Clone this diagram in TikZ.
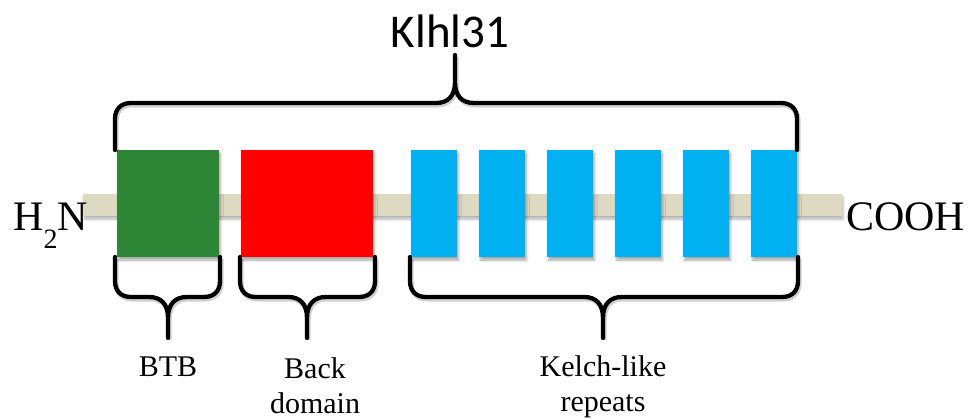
\documentclass[tikz,border=0pt]{standalone}
\usepackage{fontspec}
\setmainfont{Liberation Serif}
\newfontfamily\titlefont{Carlito}
\usetikzlibrary{shadows.blur}

\definecolor{btbgreen}{RGB}{44,134,54}
\definecolor{backred}{RGB}{255,0,0}
\definecolor{kelchblue}{RGB}{0,176,240}
\definecolor{chain}{RGB}{221,217,195}

\tikzset{
  domainbox/.style={draw=none, inner sep=0pt, minimum height=107pt,
    blur shadow={shadow xshift=1.5pt, shadow yshift=-3pt,
      shadow blur radius=2.5pt, shadow opacity=35}},
  bracestyle/.style={draw=black, line width=4.3pt, line join=round, line cap=round,
    preaction={draw=black, opacity=.18, line width=5pt,
      transform canvas={xshift=1.2pt, yshift=-2pt}}},
  label/.style={inner sep=0pt, font=\fontsize{30}{30}\selectfont},
  endlabel/.style={inner sep=0pt, font=\fontsize{42}{42}\selectfont, anchor=base west}
}

% curly brace: #1 left x, #2 right x, #3 arm end y, #4 bar y,
% #5 tip x, #6 tip y, #7 direction (1 = opens upward, -1 = opens downward)
\newcommand\curlybrace[7]{%
  \draw[bracestyle]
    (#1,#3) -- (#1,{#4-16*#7})
    .. controls (#1,{#4-6*#7}) and ({#1+6},#4) .. ({#1+16},#4)
    -- ({#5-19},#4)
    .. controls ({#5-7},#4) and (#5,{#4+7*#7}) .. (#5,{#4+21*#7})
    -- (#5,#6)
    -- (#5,{#4+21*#7})
    .. controls (#5,{#4+7*#7}) and ({#5+7},#4) .. ({#5+19},#4)
    -- ({#2-16},#4)
    .. controls ({#2-6},#4) and (#2,{#4-6*#7}) .. (#2,{#4-16*#7})
    -- (#2,#3);
}

\begin{document}
\begin{tikzpicture}[x=1pt, y=-1pt]
  \useasboundingbox (0,0) rectangle (970,418);

  % protein backbone
  \node[draw=none, fill=chain, inner sep=0pt, minimum width=759pt, minimum height=22pt,
    blur shadow={shadow xshift=1pt, shadow yshift=-3pt, shadow blur radius=2.5pt,
      shadow opacity=30}] (chainbar) at (462.5,205) {};

  % domains
  \node[domainbox, fill=btbgreen, minimum width=102pt] (btb) at (168,203.5) {};
  \node[domainbox, fill=backred, minimum width=132pt] (back) at (307,203.5) {};
  \foreach \cx [count=\i] in {434,502,570,638,706,774}
    \node[domainbox, fill=kelchblue, minimum width=46pt] (kelch\i) at (\cx,203.5) {};

  % termini
  \node[endlabel] (nterm) at (13,230)
    {H\raisebox{-18pt}{\fontsize{28}{28}\selectfont 2}N};
  \node[endlabel] (cterm) at (846,230) {COOH};

  % braces
  \curlybrace{115}{797}{150}{103}{455}{55}{-1}
  \curlybrace{115}{220}{257}{297}{168}{338}{1}
  \curlybrace{240}{375}{257}{297}{307}{338}{1}
  \curlybrace{410}{798}{257}{297}{603}{338}{1}

  % labels
  \node[inner sep=0pt, anchor=base, font=\titlefont\fontsize{47}{47}\selectfont]
    (title) at (450,47) {Klhl31};
  \node[label, anchor=base] (btblabel) at (168,376) {BTB};
  \node[label, anchor=base] (backlabel1) at (315,378) {Back};
  \node[label, anchor=base] (backlabel2) at (315,413) {domain};
  \node[label, anchor=base] (kelchlabel1) at (603,376) {Kelch-like};
  \node[label, anchor=base] (kelchlabel2) at (603,411) {repeats};
\end{tikzpicture}
\end{document}
